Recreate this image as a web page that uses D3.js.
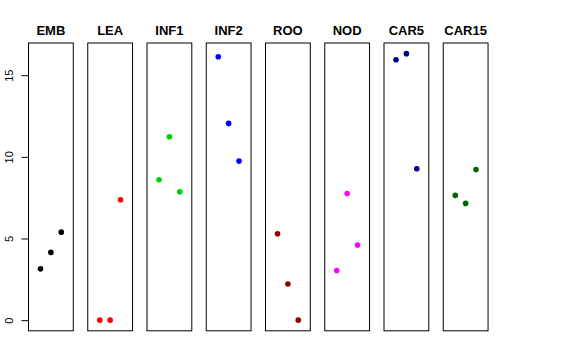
<!DOCTYPE html>
<html><head><meta charset="utf-8">
<script src="https://cdn.jsdelivr.net/npm/d3@7"></script>
<style>body{margin:0;background:#fff}svg{display:block}</style>
</head><body><svg id="c" width="576" height="360"></svg>
<script>
const categories = ["EMB","LEA","INF1","INF2","ROO","NOD","CAR5","CAR15"];
const colors = ["#000000","#FF0000","#00CD00","#0000FF","#8B0000","#FF00FF","#00008B","#006400"];
const values = [
  [3.14, 4.15, 5.39],
  [0.0, 0.0, 7.37],
  [8.6, 11.23, 7.86],
  [16.13, 12.05, 9.74],
  [5.29, 2.21, 0.0],
  [3.04, 7.76, 4.6],
  [15.95, 16.32, 9.27],
  [7.64, 7.15, 9.23]
];
const yTicks = [0, 5, 10, 15];

const svg = d3.select("#c");
const all = values.flat();
const ymin = d3.min(all), ymax = d3.max(all);
const pad = (ymax - ymin) * 0.04;
const y = d3.scaleLinear().domain([ymin - pad, ymax + pad]).range([330.8, 43]);
const panel = d3.scaleBand().domain(categories).range([28.5, 28.5 + 59.25 * 8]).paddingInner(0);
const pw = 44.8;
const x = d3.scaleLinear().domain([-0.16, 4.16]).range([0, pw]);

categories.forEach((cat, i) => {
  const g = svg.append("g").attr("transform", `translate(${panel(cat)},0)`);
  g.append("rect").attr("x", 0).attr("y", y.range()[1]).attr("width", pw)
    .attr("height", y.range()[0] - y.range()[1])
    .attr("fill", "none").attr("stroke", "#000").attr("stroke-width", 1);
  g.append("text").attr("x", pw / 2).attr("y", 34.5).attr("text-anchor", "middle")
    .attr("font-family", "Liberation Sans, Arial, sans-serif").attr("font-weight", "bold")
    .attr("font-size", 13).text(cat);
  g.selectAll("circle").data(values[i]).join("circle")
    .attr("cx", (d, j) => x(j + 1)).attr("cy", d => y(d)).attr("r", 2.8)
    .attr("fill", colors[i]);
});

const axis = d3.axisLeft(y).tickValues(yTicks).tickSize(7).tickPadding(3).tickFormat(d3.format("d"));
const ag = svg.append("g").attr("transform", `translate(${panel(categories[0])},0)`).call(axis);
ag.select(".domain").remove();
ag.selectAll(".tick line").attr("stroke", "#000");
ag.selectAll(".tick text")
  .attr("font-family", "Liberation Sans, Arial, sans-serif").attr("font-size", 11)
  .attr("fill", "#000")
  .attr("transform", "rotate(-90)")
  .attr("x", 0).attr("y", -15.5).attr("dy", 0)
  .attr("text-anchor", "middle");
</script></body></html>
